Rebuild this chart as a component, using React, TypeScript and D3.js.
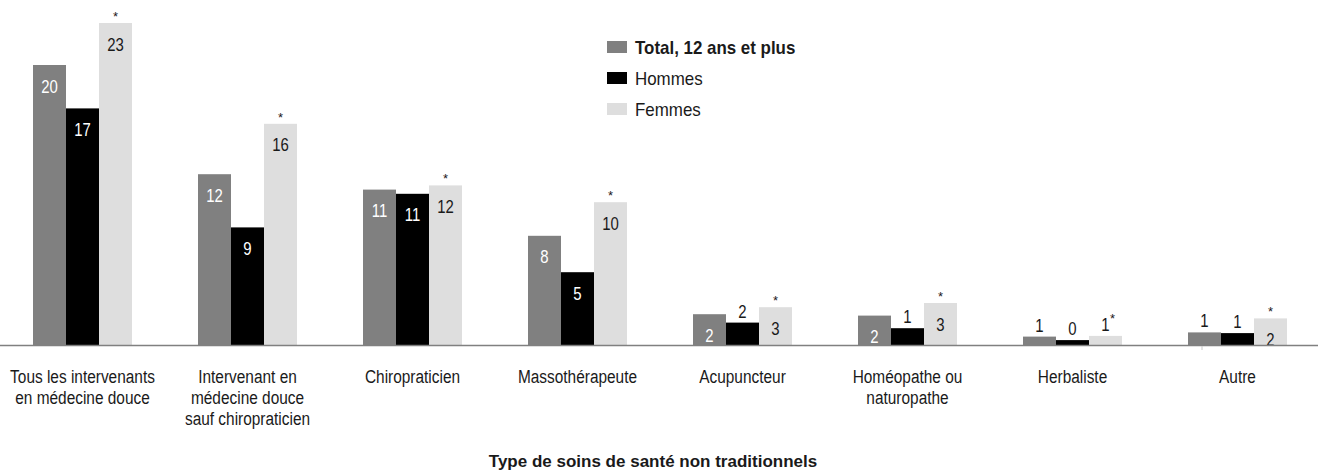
import React from "react";
import * as d3 from "d3";

const categories: string[][] = [
  ["Tous les intervenants", "en médecine douce"],
  ["Intervenant en", "médecine douce", "sauf chiropraticien"],
  ["Chiropraticien"],
  ["Massothérapeute"],
  ["Acupuncteur"],
  ["Homéopathe ou", "naturopathe"],
  ["Herbaliste"],
  ["Autre"],
];
const seriesNames = ["Total, 12 ans et plus", "Hommes", "Femmes"];
const totalValues = [20.0, 12.2, 11.1, 7.8, 2.2, 2.1, 0.6, 0.9];
const hommesValues = [16.9, 8.4, 10.8, 5.2, 1.6, 1.2, 0.35, 0.85];
const femmesValues = [23.0, 15.8, 11.4, 10.2, 2.7, 3.0, 0.65, 1.9];
const totalLabels = ["20", "12", "11", "8", "2", "2", "1", "1"];
const hommesLabels = ["17", "9", "11", "5", "2", "1", "0", "1"];
const femmesLabels = ["23", "16", "12", "10", "3", "3", "1", "2"];
const axisTitle = "Type de soins de santé non traditionnels";

const W = 1318;
const H = 474;
const FONT = "'Liberation Sans', Arial, sans-serif";
const colors = ["#808080", "#000000", "#dedede"];
const labelColors = ["#ffffff", "#ffffff", "#1a1a1a"];

function NText(props: {
  x: number;
  y: number;
  sx: number;
  size: number;
  fill?: string;
  anchor?: string;
  weight?: string;
  children: React.ReactNode;
}) {
  const { x, y, sx, size, fill = "#1a1a1a", anchor = "middle", weight = "normal", children } = props;
  return (
    <text
      transform={`translate(${x},${y}) scale(${sx},1)`}
      textAnchor={anchor}
      fontSize={size}
      fontWeight={weight}
      fill={fill}
    >
      {children}
    </text>
  );
}

export default function App() {
  const keys = categories.map((c, i) => String(i));
  const x0 = d3.scaleBand<string>().domain(keys).range([0, 1320]).paddingInner(0.4).paddingOuter(0.2);
  const x1 = d3.scaleBand<string>().domain(seriesNames).range([0, x0.bandwidth()]);
  const y = d3.scaleLinear().domain([0, 23]).range([345, 23]);
  const allValues = [totalValues, hommesValues, femmesValues];
  const allLabels = [totalLabels, hommesLabels, femmesLabels];

  return (
    <svg width={W} height={H} style={{ position: "absolute", left: 0, top: 0 }} fontFamily={FONT}>
      <rect width={W} height={H} fill="#ffffff" />
      {keys.map((k, i) => (
        <g key={k} transform={`translate(${x0(k)},0)`}>
          {seriesNames.map((s, si) => {
            const v = allValues[si][i];
            const bx = x1(s)!;
            const bw = x1.bandwidth();
            const top = y(v);
            const h = y(0) - top;
            const inside = h >= 25;
            const cx = bx + bw / 2;
            const lbl = allLabels[si][i];
            return (
              <g key={s}>
                <rect x={bx} y={top} width={bw} height={h} fill={colors[si]} />
                {inside ? (
                  <NText x={cx} y={top + 27.5} sx={0.83} size={18} fill={labelColors[si]}>
                    {lbl}
                  </NText>
                ) : (
                  <NText x={cx} y={top - 5} sx={0.83} size={18}>
                    {lbl}
                  </NText>
                )}
                {si === 2 &&
                  (inside ? (
                    <text x={cx} y={top - 2} textAnchor="middle" fontSize={13} fill="#1a1a1a">
                      *
                    </text>
                  ) : (
                    <text x={cx + 7} y={top - 13} textAnchor="middle" fontSize={13} fill="#1a1a1a">
                      *
                    </text>
                  ))}
              </g>
            );
          })}
          {categories[i].map((line, li) => (
            <NText key={li} x={x0.bandwidth() / 2} y={383 + li * 21} sx={0.857} size={18}>
              {line}
            </NText>
          ))}
        </g>
      ))}
      <line x1={0} x2={1318} y1={y(0) + 0.5} y2={y(0) + 0.5} stroke="#808080" strokeWidth={1.5} />
      <line x1={1202} x2={1202} y1={346} y2={350} stroke="#c8c8c8" strokeWidth={1} />
      <g transform="translate(607,41)">
        {seriesNames.map((s, si) => (
          <g key={s} transform={`translate(0,${si * 31})`}>
            <rect x={0} y={0} width={20} height={12} fill={colors[si]} />
            <NText x={28} y={13} sx={0.94} size={18} anchor="start" weight={si === 0 ? "bold" : "normal"}>
              {s}
            </NText>
          </g>
        ))}
      </g>
      <text x={653} y={467} textAnchor="middle" fontSize={17} fontWeight="bold" fill="#1a1a1a">
        {axisTitle}
      </text>
    </svg>
  );
}
